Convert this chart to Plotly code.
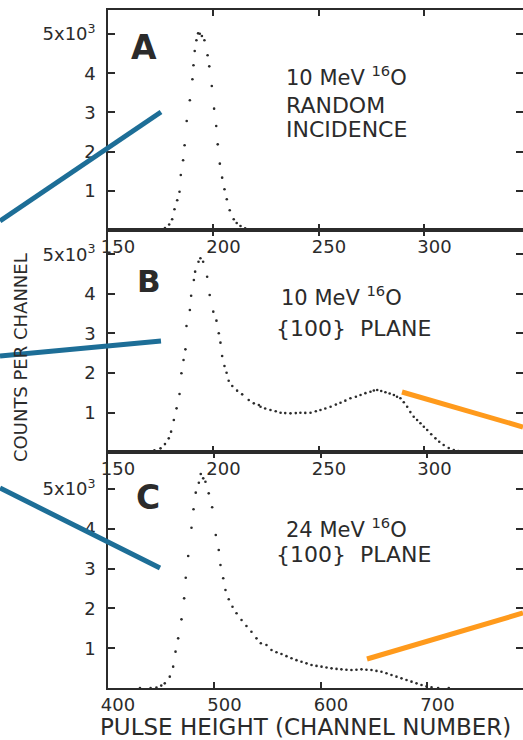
import plotly.graph_objects as go

# ---------------- data ----------------
A_channel = [168, 172, 175, 177, 179, 180.4, 181.5, 182.8, 183.9, 184.5, 185.6, 186.3, 187.3, 188.8,
             190.0, 190.5, 191.1, 191.9, 192.7, 193.5, 194.5, 195.7, 197.2, 198.0, 199.2, 200.3,
             201.3, 202.0, 203.0, 204.1, 205.2, 206.3, 207.7, 209.6, 211.0, 212.8, 215.0, 217.5,
             220, 224]
A_counts = [0, 0, 15, 50, 140, 273, 528, 757, 977, 1403, 1778, 2160, 2780, 3308,
            3844, 4201, 4566, 4839, 5017, 5008, 4949, 4839, 4456, 4175, 3673, 3095,
            2653, 2185, 1692, 1335, 1038, 783, 502, 273, 180, 102, 45, 18,
            5, 0]

B_channel = [160, 165, 169.3, 172, 174.9, 177, 178.8, 179.9, 181.2, 182.5, 183.9, 184.8, 185.8, 186.7,
             187.2, 188.8, 189.4, 190.7, 191.3, 192.9, 193.8, 195.1, 197.0, 198.2, 199.9, 201.4,
             202.5, 203.3, 204.1, 205.2, 206.2, 207.2, 208.9, 211.2, 213.6, 216.7, 219.1, 221.5,
             222.3, 224.5, 227.0, 229.5, 231.8, 234.0, 236.5, 239.0, 241.2, 243.5, 246.0, 248.5,
             250.7, 253.0, 255.5, 258.0, 260.2, 262.5, 264.9, 267.5, 269.7, 272.0, 274.4, 276.0,
             277.6, 279.5, 281.5, 283.5, 285.5, 287.0, 288.6, 290.2, 291.8, 293.3, 294.9, 296.5,
             298.1, 299.7, 301.3, 303.2, 305.2, 307.0, 309.1, 311.5, 313.9, 316.0, 318.6, 321.0,
             323.4, 326.0]
B_counts = [0, 0, 10, 40, 93, 200, 346, 515, 810, 1105, 1468, 1992, 2329, 2599,
            3190, 3595, 3957, 4354, 4565, 4818, 4903, 4818, 4438, 3975, 3553, 3325,
            3005, 2768, 2430, 2177, 2008, 1805, 1671, 1553, 1460, 1316, 1232, 1190,
            1147, 1100, 1063, 1030, 995, 985, 979, 985, 995, 990, 995, 1030,
            1063, 1100, 1147, 1200, 1248, 1300, 1359, 1400, 1443, 1490, 1527, 1555,
            1570, 1545, 1511, 1480, 1443, 1400, 1359, 1260, 1147, 1010, 894, 810,
            726, 640, 557, 450, 346, 260, 177, 100, 51, 25, 8, 3,
            0, 0]

C_channel = [430, 440, 445.5, 450, 453.3, 458.0, 461.2, 463.4, 465.9, 469.0, 471.5, 473.0, 475.3,
             478.4, 480.3, 482.4, 485.3, 487.1, 489.4, 491.5, 494.6, 497.8, 501.2, 504.0, 505.6,
             508.2, 510.3, 513.4, 516.9, 520.7, 525.4, 530.0, 534.7, 539.4, 543.5, 548.8, 553.5,
             558.2, 562.9, 567.6, 572.3, 577.0, 581.7, 586.4, 591.1, 595.8, 600.5, 605.2, 609.9,
             614.6, 619.2, 623.9, 628.6, 633.3, 638.0, 642.7, 647.4, 652.1, 656.8, 661.5, 666.2,
             670.9, 675.6, 680.3, 685.0, 689.7, 694.4, 699.1, 703.8, 710.0, 720.0]
C_counts = [0, 0, 10, 60, 117, 285, 536, 913, 1248, 1725, 2253, 2772, 3316,
            4028, 4490, 4908, 5159, 5377, 5268, 5184, 4891, 4540, 3844, 3467, 3090,
            2756, 2462, 2229, 2043, 1877, 1709, 1558, 1415, 1248, 1123, 1080, 955,
            900, 854, 800, 746, 700, 661, 620, 578, 555, 536, 515, 494,
            480, 469, 460, 452, 460, 469, 460, 452, 430, 410, 370, 327,
            285, 243, 200, 159, 117, 75, 40, 17, 0, 0]

A_text = ["10 MeV <sup>16</sup>O", "RANDOM", "INCIDENCE"]
B_text = ["10 MeV <sup>16</sup>O", "{100}  PLANE"]
C_text = ["24 MeV <sup>16</sup>O", "{100}  PLANE"]

AB_tickvals = [150, 200, 250, 300]
AB_ticktext = ["150", "200", "250", "300"]
C_tickvals = [400, 500, 600, 700]
C_ticktext = ["400", "500", "600", "700"]
y_tickvals = [1000, 2000, 3000, 4000, 5000]
y_ticktext = ["1", "2", "3", "4", "5x10<sup>3</sup>"]

# ---------------- layout helpers ----------------
W, H = 523, 740
def px(x):
    return x / W
def py(y):
    return 1 - y / H

INK = "#2b2b2b"
FONT = "DejaVu Sans"

fig = go.Figure()
fig.add_trace(go.Scatter(x=A_channel, y=A_counts, mode="markers", xaxis="x", yaxis="y",
                         marker=dict(size=2.6, color=INK), showlegend=False))
fig.add_trace(go.Scatter(x=B_channel, y=B_counts, mode="markers", xaxis="x2", yaxis="y2",
                         marker=dict(size=2.6, color=INK), showlegend=False))
fig.add_trace(go.Scatter(x=C_channel, y=C_counts, mode="markers", xaxis="x3", yaxis="y3",
                         marker=dict(size=2.6, color=INK), showlegend=False))

xdom = [px(108), 1.0]
common_x = dict(domain=xdom, showgrid=False, zeroline=False, showline=True, linecolor=INK,
                linewidth=1.6, mirror="ticks", ticks="inside", ticklen=6, tickwidth=2,
                tickcolor=INK, automargin=False, ticklabelshift=10,
                tickfont=dict(family=FONT, size=18, color=INK))
common_y = dict(showgrid=False, zeroline=False, showline=True, linecolor=INK, linewidth=1.6,
                mirror="ticks", ticks="inside", ticklen=7, tickwidth=2, tickcolor=INK,
                tickvals=y_tickvals, ticktext=y_ticktext, automargin=False,
                tickfont=dict(family=FONT, size=18, color=INK), ticklabelstandoff=7)

fig.update_layout(
    width=W, height=H, margin=dict(l=0, r=0, t=0, b=0, autoexpand=False),
    paper_bgcolor="white", plot_bgcolor="white",
    xaxis=dict(common_x, range=[150, 346.7], anchor="y", tickvals=AB_tickvals, ticktext=AB_ticktext),
    yaxis=dict(common_y, domain=[py(230), py(10)], range=[0, 5612], anchor="x"),
    xaxis2=dict(common_x, range=[150, 346.7], anchor="y2", tickvals=AB_tickvals, ticktext=AB_ticktext),
    yaxis2=dict(common_y, domain=[py(452), py(230)], range=[0, 5620], anchor="x2"),
    xaxis3=dict(common_x, range=[400, 789.7], anchor="y3", tickvals=C_tickvals, ticktext=C_ticktext),
    yaxis3=dict(common_y, domain=[py(688), py(452)], range=[0, 5930], anchor="x3"),
)

ann = []
def txt(x, y, s, size=16, bold=False, xanchor="left", angle=0):
    ann.append(dict(xref="paper", yref="paper", x=px(x), y=py(y), text=("<b>%s</b>" % s) if bold else s,
                    showarrow=False, xanchor=xanchor, yanchor="middle", textangle=angle,
                    borderpad=0, font=dict(family=FONT, size=size, color=INK)))

# panel letters
txt(130, 47, "A", size=33, bold=True)
txt(136, 281, "B", size=31, bold=True)
txt(135, 497, "C", size=33, bold=True)
# panel descriptions
txt(285, 76, A_text[0], size=21); txt(285, 106, A_text[1], size=22); txt(285, 129, A_text[2], size=22)
txt(280, 296, B_text[0], size=21); txt(275, 328, B_text[1], size=22)
txt(285, 528, C_text[0], size=21); txt(275, 554, C_text[1], size=22)
# axis titles
txt(21, 358, "COUNTS PER CHANNEL", size=18, xanchor="center", angle=-90)
txt(305, 727, "PULSE HEIGHT (CHANNEL NUMBER)", size=23, xanchor="center")
fig.update_layout(annotations=ann)

# overlaid coloured strokes of the reference picture
BLUE = "#1d6e97"
ORANGE = "#ff9a1c"
def seg(x0, y0, x1, y1, color):
    return dict(type="line", xref="paper", yref="paper", x0=px(x0), y0=py(y0), x1=px(x1), y1=py(y1),
                line=dict(color=color, width=5), layer="above")
fig.update_layout(shapes=[
    seg(0, 221, 161, 112, BLUE),
    seg(0, 356, 161, 341, BLUE),
    seg(0, 488, 160, 568, BLUE),
    seg(402, 392, 523, 427, ORANGE),
    seg(367, 659, 523, 613, ORANGE),
])

fig.write_html("out.html")
